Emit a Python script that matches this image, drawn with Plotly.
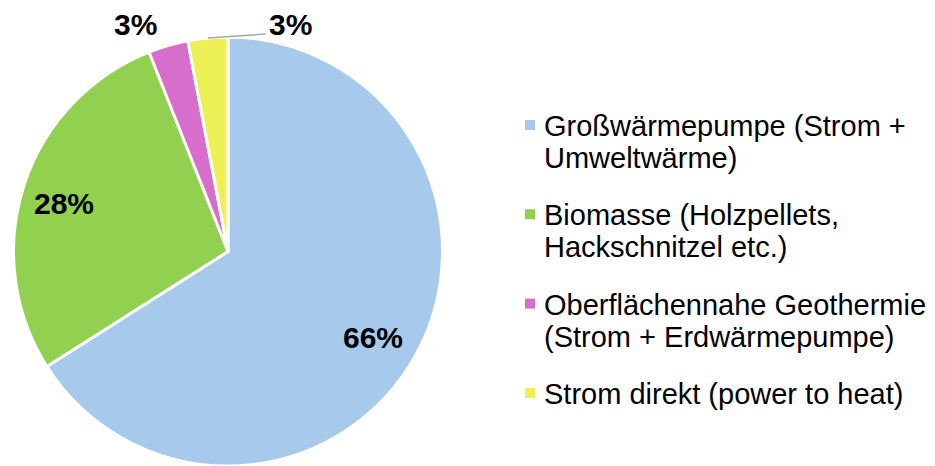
import math
import plotly.graph_objects as go

# Heat sources and their shares (percent)
categories = [
    "Großwärmepumpe (Strom + Umweltwärme)",
    "Biomasse (Holzpellets, Hackschnitzel etc.)",
    "Oberflächennahe Geothermie (Strom + Erdwärmepumpe)",
    "Strom direkt (power to heat)",
]
legend_lines = [
    ["Großwärmepumpe (Strom +", "Umweltwärme)"],
    ["Biomasse (Holzpellets,", "Hackschnitzel etc.)"],
    ["Oberflächennahe Geothermie", "(Strom + Erdwärmepumpe)"],
    ["Strom direkt (power to heat)"],
]
shares = [66, 28, 3, 3]
colors = ["#A6C9EC", "#92D050", "#D86ECC", "#EDF055"]

W, H = 935, 466
FONT = "Liberation Sans, Arial, sans-serif"

# pie geometry in pixels
CX, CY, R = 228.0, 251.5, 214.5


def px(x):
    return x / W


def py(y):
    return 1 - y / H


fig = go.Figure(
    go.Pie(
        labels=categories,
        values=shares,
        sort=False,
        direction="clockwise",
        rotation=0,
        marker=dict(colors=colors, line=dict(color="white", width=3)),
        textinfo="none",
        domain=dict(x=[px(CX - R), px(CX + R)], y=[py(CY + R), py(CY - R)]),
        hoverinfo="label+percent",
        showlegend=False,
    )
)

# percentage labels placed along each slice's bisector
total = sum(shares)
cum = 0.0
annotations = []
shapes = []
for i, v in enumerate(shares):
    mid = (cum + v / 2) / total * 2 * math.pi
    cum += v
    dx, dy = math.sin(mid), -math.cos(mid)
    text = f"<b>{round(v / total * 100)}%</b>"
    font = dict(family=FONT, size=30, color="black")
    if v / total > 0.1:
        x, y = CX + dx * 0.79 * R, CY + dy * 0.79 * R
        annotations.append(dict(x=px(x), y=py(y), xref="paper", yref="paper",
                                text=text, showarrow=False, font=font,
                                xanchor="center", yanchor="middle",
                                xshift=-3, yshift=-4))
    elif i == 2:
        x, y = CX + dx * 1.1 * R, CY + dy * 1.1 * R
        annotations.append(dict(x=px(x), y=py(y), xref="paper", yref="paper",
                                text=text, showarrow=False, font=font,
                                xanchor="right", yanchor="middle",
                                xshift=-3))
    else:
        # label shifted to the right with a leader line back to the slice
        x0, y0 = CX + dx * R, CY + dy * R
        x1, y1 = x0 + 58, y0 - 4
        shapes.append(dict(type="line", xref="paper", yref="paper",
                           x0=px(x0), y0=py(y0), x1=px(x1), y1=py(y1),
                           line=dict(color="#A6A6A6", width=1.5)))
        annotations.append(dict(x=px(x1 + 1), y=py(y1 - 9), xref="paper", yref="paper",
                                text=text, showarrow=False, font=font,
                                xanchor="left", yanchor="middle"))

# legend: colour squares with wrapped labels
LX, TX, LY0, LSTEP, LINE = 530, 542, 125, 89.3, 32
for i, lines in enumerate(legend_lines):
    yc = LY0 + i * LSTEP
    shapes.append(dict(type="rect", xref="paper", yref="paper",
                       x0=px(LX - 5), x1=px(LX + 5), y0=py(yc - 5), y1=py(yc + 5),
                       fillcolor=colors[i], line=dict(width=0)))
    for j, line in enumerate(lines):
        annotations.append(dict(x=px(TX), y=py(yc + j * LINE + 1), xref="paper", yref="paper",
                                text=line, showarrow=False,
                                font=dict(family=FONT, size=29, color="black"),
                                xanchor="left", yanchor="middle"))

fig.update_layout(
    width=W,
    height=H,
    margin=dict(l=0, r=0, t=0, b=0),
    paper_bgcolor="white",
    plot_bgcolor="white",
    showlegend=False,
    annotations=annotations,
    shapes=shapes,
)

fig.write_html("out.html")
